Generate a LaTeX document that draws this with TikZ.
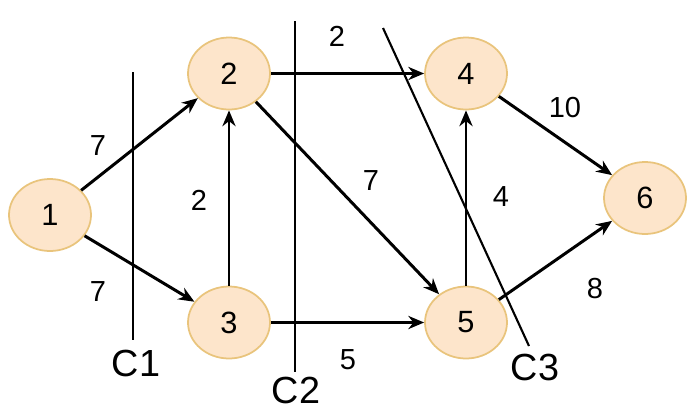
\documentclass[tikz,border=0pt]{standalone}
\usepackage{fontspec}
\setmainfont{Liberation Sans}
\usepackage{tikz}
\usetikzlibrary{shapes.geometric, arrows.meta, positioning}
\definecolor{peach}{HTML}{FDE5CB}
\definecolor{gold}{HTML}{E9C47C}
\tikzstyle{vertex} = [ellipse, minimum width=1.64cm, minimum height=1.44cm, inner sep=0pt, text centered, draw=gold, line width=1pt, fill=peach, font=\fontsize{17.5}{19}\selectfont]
\tikzstyle{weight} = [inner sep=0pt, font=\fontsize{16.5}{18}\selectfont]
\tikzstyle{cutlabel} = [inner sep=0pt, font=\fontsize{21.5}{24}\selectfont]
\tikzstyle{arrow} = [line width=1.7pt, ->, >={Stealth[length=9pt,width=7.5pt]}]
\tikzstyle{cut} = [line width=1.2pt]
\begin{document}
\begin{tikzpicture}[on grid]
		\useasboundingbox (0,0) rectangle (13.96,-8.22);
		% Nodes
		\node (N1) [vertex] at (1.00,-4.30) {1};
		\node (N2) [vertex, above right = 2.83cm and 3.58cm of N1] {2};
		\node (N3) [vertex, below = 4.98cm of N2] {3};
		\node (N4) [vertex, right = 4.74cm of N2] {4};
		\node (N5) [vertex, right = 4.74cm of N3] {5};
		\node (N6) [vertex, below right = 2.49cm and 3.58cm of N4] {6};
		% Arrows
		\draw [arrow] (N1) -- (N2);
		\draw [arrow] (N1) -- (N3);
		\draw [arrow] (N3) -- (N2);
		\draw [arrow] (N2) -- (N4);
		\draw [arrow] (N2) -- (N5);
		\draw [arrow] (N3) -- (N5);
		\draw [arrow] (N5) -- (N4);
		\draw [arrow] (N4) -- (N6);
		\draw [arrow] (N5) -- (N6);
		% Weights
		\node (W12) [weight] at (1.96,-2.92) {7};
		\node (W13) [weight] at (1.96,-5.84) {7};
		\node (W32) [weight] at (3.98,-4.00) {2};
		\node (W24) [weight] at (6.74,-0.72) {2};
		\node (W25) [weight] at (7.42,-3.62) {7};
		\node (W35) [weight] at (6.96,-7.20) {5};
		\node (W54) [weight] at (10.02,-3.94) {4};
		\node (W46) [weight] at (11.30,-2.16) {10};
		\node (W56) [weight] at (11.90,-5.78) {8};
		% Cuts
		\coordinate (C1a) at (2.66,-1.44);
		\coordinate (C1b) at (2.66,-6.80);
		\coordinate (C2a) at (5.90,-0.42);
		\coordinate (C2b) at (5.90,-7.44);
		\coordinate (C3a) at (7.66,-0.56);
		\coordinate (C3b) at (10.58,-6.92);
		\draw [cut] (C1a) -- (C1b);
		\draw [cut] (C2a) -- (C2b);
		\draw [cut] (C3a) -- (C3b);
		\node (L1) [cutlabel] at (2.72,-7.26) {C1};
		\node (L2) [cutlabel] at (5.92,-7.80) {C2};
		\node (L3) [cutlabel] at (10.70,-7.34) {C3};
	\end{tikzpicture}
\end{document}
